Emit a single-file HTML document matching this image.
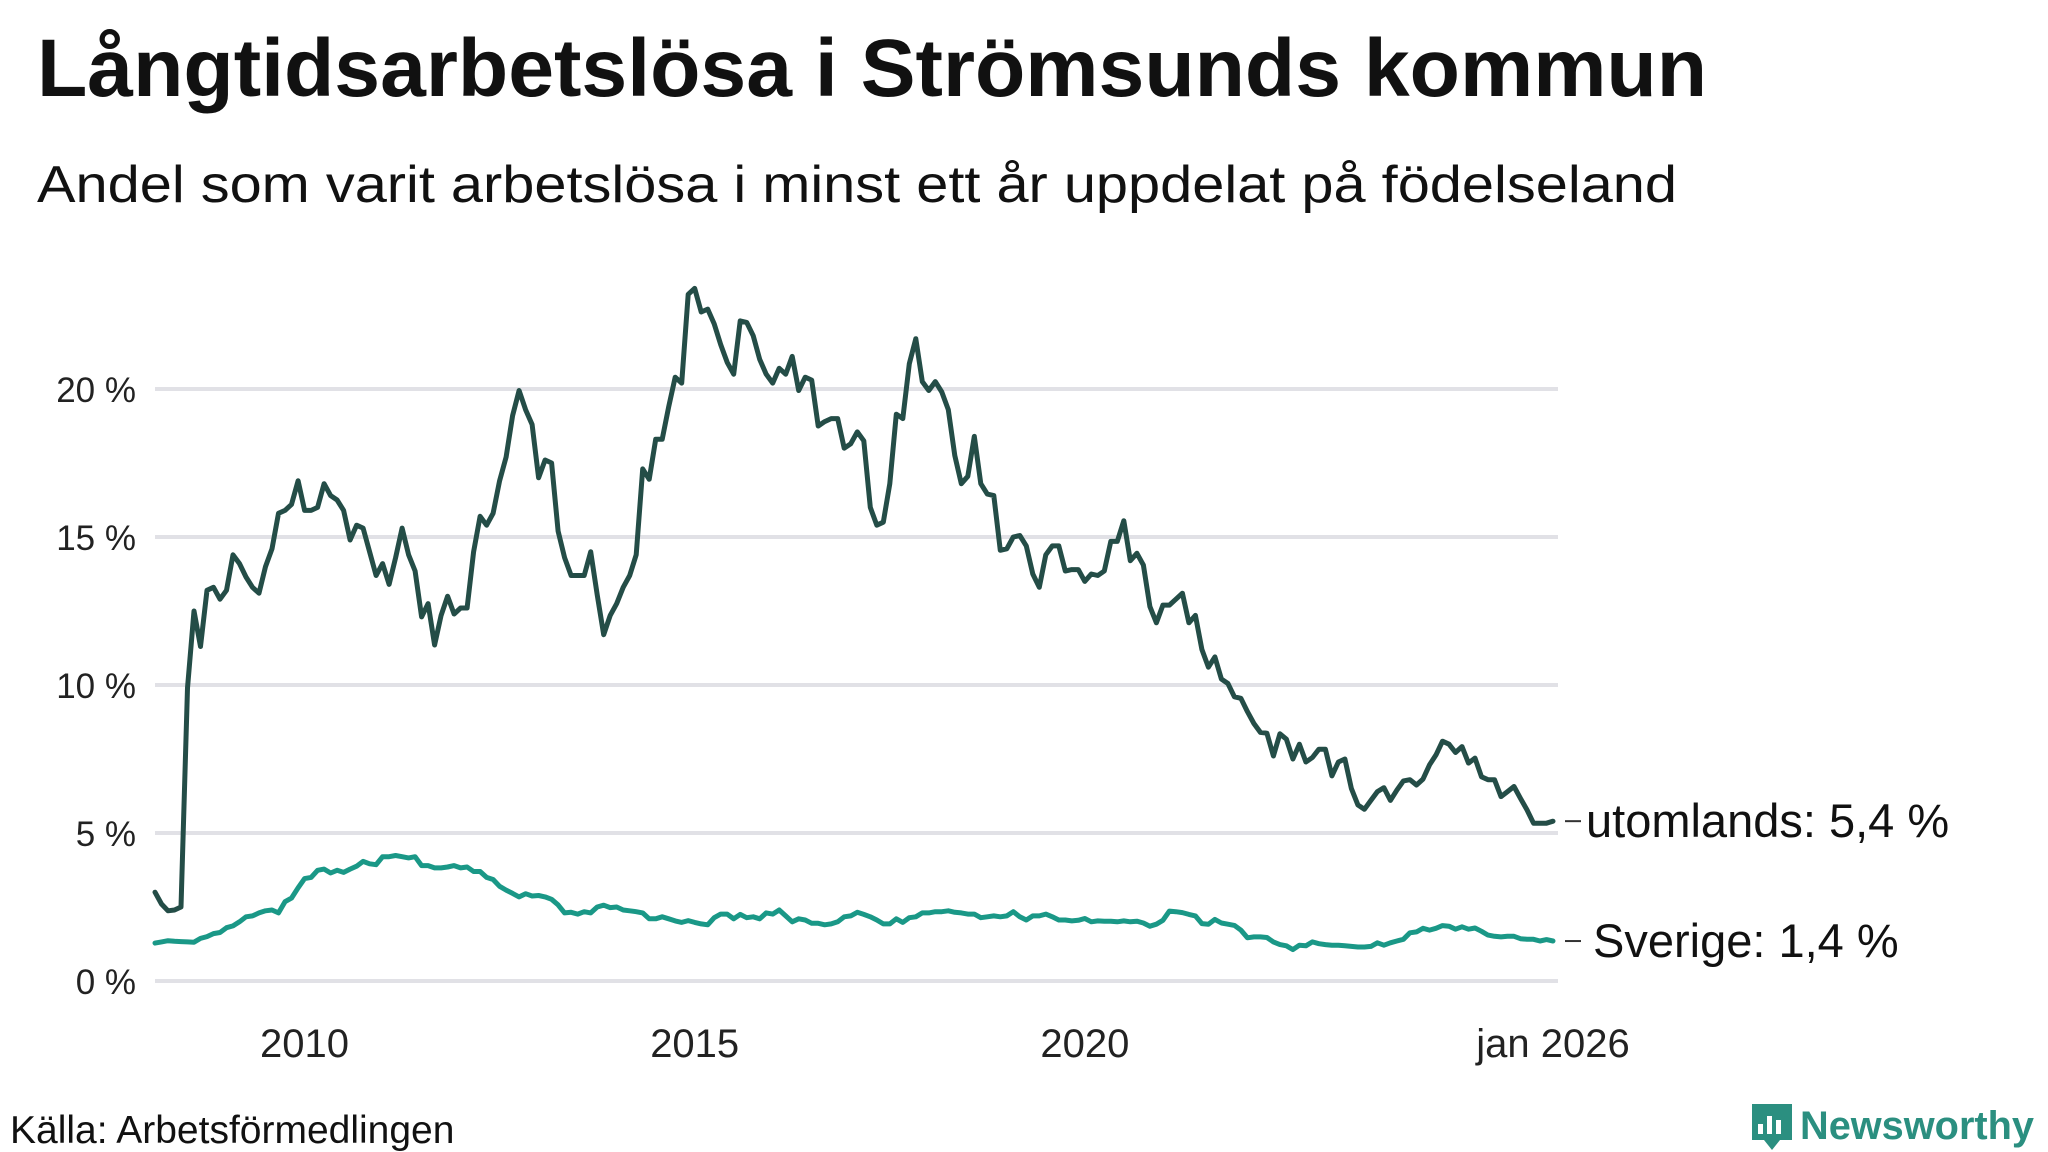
<!DOCTYPE html>
<html><head><meta charset="utf-8">
<style>
html,body{margin:0;padding:0;background:#fff;}
svg{display:block;font-family:"Liberation Sans","DejaVu Sans",sans-serif;}
</style></head>
<body>
<svg id="chart" width="2048" height="1152" viewBox="0 0 2048 1152" xmlns="http://www.w3.org/2000/svg">
<text x="37" y="96" font-size="82" font-weight="bold" fill="#111" textLength="1670" lengthAdjust="spacingAndGlyphs">Långtidsarbetslösa i Strömsunds kommun</text>
<text x="37" y="202" font-size="52" fill="#111" textLength="1640" lengthAdjust="spacingAndGlyphs">Andel som varit arbetslösa i minst ett år uppdelat på födelseland</text>
<g id="grid"></g>
<g id="yticks"></g>
<g id="xticks"></g>
<g id="lines"></g>
<g id="endlabels"></g>
<text x="10" y="1143" font-size="39" fill="#111">Källa: Arbetsförmedlingen</text>
<g>
<path d="M1752 1104 h40 v36 h-12 l-8 10 l-8 -10 h-12 z" fill="#2b8f80"/>
<rect x="1758" y="1124" width="5" height="10" fill="#fff"/>
<rect x="1767" y="1116" width="5" height="18" fill="#fff"/>
<rect x="1776" y="1120" width="5" height="14" fill="#fff"/>
<text x="1800" y="1139" font-size="40" font-weight="bold" fill="#2b8f80" textLength="234" lengthAdjust="spacingAndGlyphs">Newsworthy</text>
</g>
</svg>
<script>
const yTicks = [0, 5, 10, 15, 20];
const yTickLabels = ["0 %", "5 %", "10 %", "15 %", "20 %"];
const xTickMonths = [23, 83, 143, 215];
const xTickLabels = ["2010", "2015", "2020", "jan 2026"];
const seriesNames = ["utomlands", "Sverige"];
const endLabels = ["utomlands: 5,4 %", "Sverige: 1,4 %"];
const utomlands = [3.0,2.6,2.37,2.4,2.5,9.9,12.5,11.3,13.2,13.3,12.9,13.2,14.4,14.1,13.65,13.3,13.1,14.0,14.6,15.8,
15.9,16.1,16.9,15.9,15.9,16.0,16.8,16.4,16.25,15.9,14.9,15.4,15.3,14.5,13.7,14.1,13.4,14.3,15.3,14.4,
13.85,12.3,12.75,11.35,12.35,13.0,12.4,12.6,12.6,14.5,15.7,15.4,15.8,16.9,17.7,19.1,19.95,19.3,18.8,17.0,
17.6,17.5,15.2,14.3,13.7,13.7,13.7,14.5,13.05,11.7,12.35,12.75,13.3,13.7,14.4,17.3,16.95,18.3,18.3,19.4,
20.4,20.2,23.2,23.4,22.6,22.7,22.2,21.5,20.9,20.5,22.3,22.25,21.8,21.0,20.5,20.2,20.7,20.5,21.1,19.95,
20.4,20.3,18.75,18.9,19.0,19.0,18.0,18.15,18.55,18.25,16.0,15.4,15.5,16.8,19.15,19.0,20.85,21.7,20.25,19.95,
20.25,19.9,19.3,17.75,16.8,17.05,18.4,16.8,16.45,16.4,14.55,14.6,15.0,15.05,14.7,13.75,13.3,14.4,14.7,14.7,
13.85,13.9,13.9,13.5,13.75,13.7,13.85,14.85,14.85,15.55,14.2,14.45,14.05,12.65,12.1,12.7,12.7,12.9,13.1,12.1,
12.35,11.2,10.6,10.95,10.2,10.05,9.6,9.55,9.1,8.7,8.4,8.37,7.6,8.35,8.17,7.5,8.0,7.4,7.55,7.83,
7.83,6.93,7.4,7.5,6.5,5.95,5.8,6.1,6.4,6.53,6.1,6.45,6.76,6.8,6.62,6.82,7.3,7.64,8.1,8.0,
7.72,7.92,7.36,7.53,6.9,6.8,6.8,6.23,6.4,6.57,6.17,5.78,5.33,5.33,5.33,5.4];
const sverige = [1.28,1.32,1.36,1.34,1.33,1.32,1.31,1.44,1.5,1.6,1.64,1.8,1.86,2.0,2.17,2.2,2.3,2.37,2.4,2.3,
2.68,2.8,3.15,3.46,3.5,3.74,3.78,3.65,3.74,3.67,3.78,3.88,4.04,3.96,3.93,4.2,4.2,4.24,4.2,4.16,
4.2,3.9,3.9,3.82,3.82,3.85,3.9,3.82,3.85,3.7,3.7,3.5,3.43,3.2,3.07,2.96,2.84,2.95,2.87,2.89,
2.84,2.76,2.57,2.3,2.32,2.26,2.34,2.3,2.5,2.56,2.48,2.5,2.4,2.37,2.34,2.3,2.1,2.1,2.17,2.1,
2.03,1.98,2.04,1.98,1.93,1.9,2.14,2.26,2.26,2.1,2.25,2.14,2.17,2.1,2.3,2.26,2.4,2.2,2.0,2.1,
2.06,1.95,1.95,1.9,1.93,2.0,2.17,2.2,2.32,2.25,2.17,2.06,1.93,1.93,2.1,1.98,2.14,2.17,2.3,2.3,
2.34,2.34,2.37,2.32,2.3,2.26,2.26,2.14,2.17,2.2,2.17,2.2,2.34,2.17,2.06,2.2,2.2,2.26,2.17,2.06,
2.06,2.03,2.05,2.11,2.0,2.03,2.02,2.02,2.0,2.03,2.0,2.02,1.96,1.85,1.92,2.05,2.36,2.34,2.31,2.25,
2.2,1.94,1.92,2.08,1.96,1.92,1.88,1.72,1.46,1.49,1.49,1.47,1.32,1.23,1.19,1.06,1.21,1.19,1.32,1.26,
1.23,1.21,1.21,1.19,1.17,1.15,1.15,1.17,1.29,1.21,1.29,1.35,1.41,1.63,1.66,1.78,1.72,1.78,1.87,1.85,
1.75,1.83,1.75,1.79,1.68,1.55,1.51,1.49,1.51,1.51,1.43,1.41,1.41,1.35,1.4,1.35];

const NS = "http://www.w3.org/2000/svg";
const X0 = 155, X1 = 1553, NM = 215;
const Y0 = 981, PXPCT = 29.6;
function xs(m){ return X0 + (X1 - X0) * m / NM; }
function ys(v){ return Y0 - v * PXPCT; }
function mk(tag, attrs, parent){ const e = document.createElementNS(NS, tag); for (const k in attrs) e.setAttribute(k, attrs[k]); parent.appendChild(e); return e; }

const grid = document.getElementById('grid');
const yt = document.getElementById('yticks');
yTicks.forEach((v, i) => {
  const l = mk('line', {x1: X0, x2: 1558, y1: ys(v), y2: ys(v), stroke: '#e1e1e6', 'stroke-width': 4}, grid);
  
  
  const t = mk('text', {x: 136, y: ys(v) + 13, 'text-anchor': 'end', 'font-size': 35, fill: '#222'}, yt);
  t.textContent = yTickLabels[i];
  
  
});
const xt = document.getElementById('xticks');
xTickMonths.forEach((m, i) => {
  const t = mk('text', {x: xs(m), y: 1057, 'text-anchor': 'middle', 'font-size': 40, fill: '#222'}, xt);
  t.textContent = xTickLabels[i];
  
  
});
const lines = document.getElementById('lines');
const colors = ['#244d47', '#1a9887'];
[utomlands, sverige].forEach((arr, si) => {
  const d = arr.map((v, m) => (m ? 'L' : 'M') + xs(m).toFixed(1) + ' ' + ys(v).toFixed(1)).join(' ');
  const p = mk('path', {d: d, fill: 'none', stroke: colors[si], 'stroke-width': 5, 'stroke-linejoin': 'round', 'stroke-linecap': 'round'}, lines);
  
  
});
const el = document.getElementById('endlabels');
[utomlands, sverige].forEach((arr, si) => {
  const v = arr[arr.length - 1];
  const yy = ys(v);
  const c = mk('line', {x1: 1565, x2: 1581, y1: yy, y2: yy, stroke: '#333', 'stroke-width': 2}, el);
  
  
  const t = mk('text', {x: si === 0 ? 1586 : 1593, y: yy + 16, 'font-size': 47, fill: '#111'}, el);
  t.textContent = endLabels[si];
  
  
});
</script>
</body></html>
